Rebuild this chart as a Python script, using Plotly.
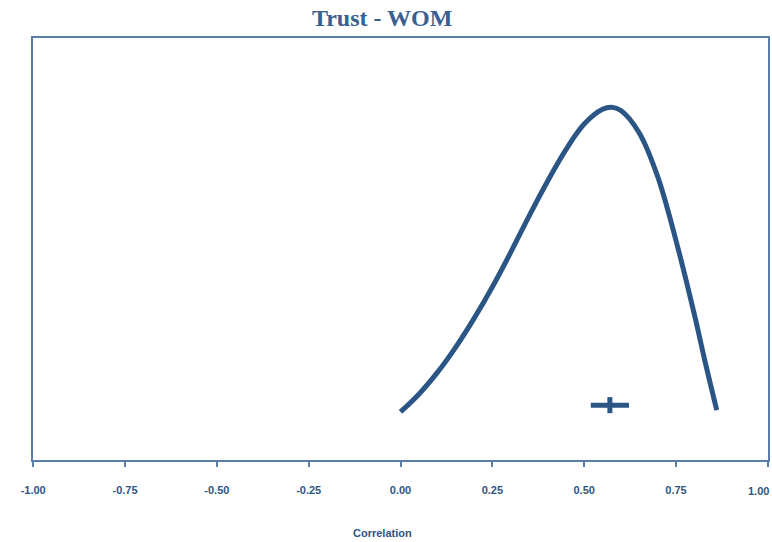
import plotly.graph_objects as go

# Density curve of correlation (y in arbitrary units)
curve_x = [0.00, 0.05, 0.10, 0.15, 0.20, 0.25, 0.30, 0.35, 0.40, 0.45,
           0.50, 0.55, 0.575, 0.60, 0.65, 0.70, 0.75, 0.80, 0.83, 0.861]
curve_y = [0.114, 0.156, 0.207, 0.267, 0.335, 0.410, 0.492, 0.578, 0.660, 0.735,
           0.796, 0.831, 0.836, 0.828, 0.775, 0.672, 0.520, 0.345, 0.230, 0.118]

# Mean estimate marker
mean_x = [0.57]
mean_y = [0.130]
mean_xerr = [0.052]
mean_yerr = [0.019]

tick_vals = [-1.0, -0.75, -0.5, -0.25, 0.0, 0.25, 0.5, 0.75, 1.0]
tick_text = ["-1.00", "-0.75", "-0.50", "-0.25", "0.00", "0.25", "0.50", "0.75", ""]
last_tick_text = "1.00"

line_color = "#2b5585"
frame_color = "#5a7ea8"
text_color = "#2f5483"
sans = "Liberation Sans, Arial, sans-serif"

fig = go.Figure()
fig.add_trace(go.Scatter(
    x=curve_x, y=curve_y, mode="lines",
    line=dict(color=line_color, width=5, shape="spline", smoothing=1.0),
    showlegend=False, hoverinfo="skip"))
fig.add_trace(go.Scatter(
    x=mean_x, y=mean_y, mode="markers",
    marker=dict(size=1, color=line_color),
    error_x=dict(type="data", array=mean_xerr, width=0, thickness=5, color=line_color),
    error_y=dict(type="data", array=mean_yerr, width=0, thickness=5, color=line_color),
    showlegend=False, hoverinfo="skip"))

fig.update_layout(
    width=772, height=542,
    margin=dict(l=33, r=4, t=38, b=82, autoexpand=False),
    paper_bgcolor="white", plot_bgcolor="white",
    title=dict(text="<b>Trust - WOM</b>", x=0.495, xanchor="center", y=0.968, yanchor="middle",
               font=dict(family="Liberation Serif, Times New Roman, serif", size=24, color="#3a6090")),
    xaxis=dict(range=[-1.0005, 1.0005], tickvals=tick_vals, ticktext=tick_text,
               showgrid=False, zeroline=False, automargin=False,
               showline=True, linecolor=frame_color, linewidth=2, mirror=True,
               ticks="outside", ticklen=5, tickwidth=2, tickcolor=frame_color,
               ticklabelstandoff=14, ticklabeloverflow="allow",
               tickfont=dict(family=sans, size=11, color=text_color, weight="bold")),
    yaxis=dict(range=[0, 1], showgrid=False, zeroline=False, showticklabels=False,
               automargin=False,
               showline=True, linecolor=frame_color, linewidth=2, mirror=True, ticks=""),
    annotations=[
        dict(text="<b>Correlation</b>", xref="paper", yref="paper",
             x=0.476, y=-0.173, xanchor="center", yanchor="middle", showarrow=False,
             font=dict(family=sans, size=11, color=text_color)),
        dict(text="<b>" + last_tick_text + "</b>", xref="paper", yref="paper",
             x=1.0, y=-0.073, xanchor="right", yanchor="middle", xshift=3, showarrow=False,
             font=dict(family=sans, size=11, color=text_color)),
    ],
)

fig.write_html("out.html")
